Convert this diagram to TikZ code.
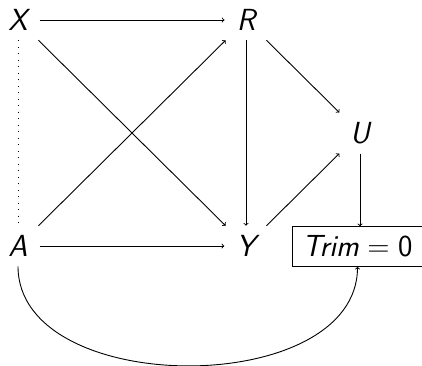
\documentclass[tikz,border=0pt]{standalone}
\begin{document}
\begin{tikzpicture}[x=1pt,y=-1pt,
  font=\fontsize{30.5}{36}\selectfont\sffamily,
  every node/.style={inner xsep=12pt, inner ysep=9.5pt},
  arr/.style={->, line width=0.9pt},
  dotln/.style={line width=0.9pt, dash pattern=on 0.9pt off 5.6pt},
  boxnode/.style={draw, line width=0.9pt}]
\useasboundingbox (0,0) rectangle (422,365);
\node (X) at (18,20) {\itshape X};
\node (R) at (246,20) {\itshape R};
\node (U) at (360,133) {\itshape U};
\node (A) at (18,246) {\itshape A};
\node (Y) at (246,246) {\itshape Y};
\node[boxnode, inner xsep=10.5pt, inner ysep=9pt] (T) at (357.5,246.5) {\itshape Trim\/\upshape\hspace{0.278em}=\hspace{0.278em}0};
\draw[arr] (X) -- (R);
\draw[arr] (X) -- (Y);
\draw[arr] (A) -- (R);
\draw[arr] (A) -- (Y);
\draw[arr] (R) -- (Y);
\draw[arr] (R) -- (U);
\draw[arr] (Y) -- (U);
\draw[arr] (U) -- (U |- T.north);
\draw[dotln] (X) -- (A);
\draw[arr] (A.south) to[out=-90,in=-90] (T.south);
\end{tikzpicture}
\end{document}
